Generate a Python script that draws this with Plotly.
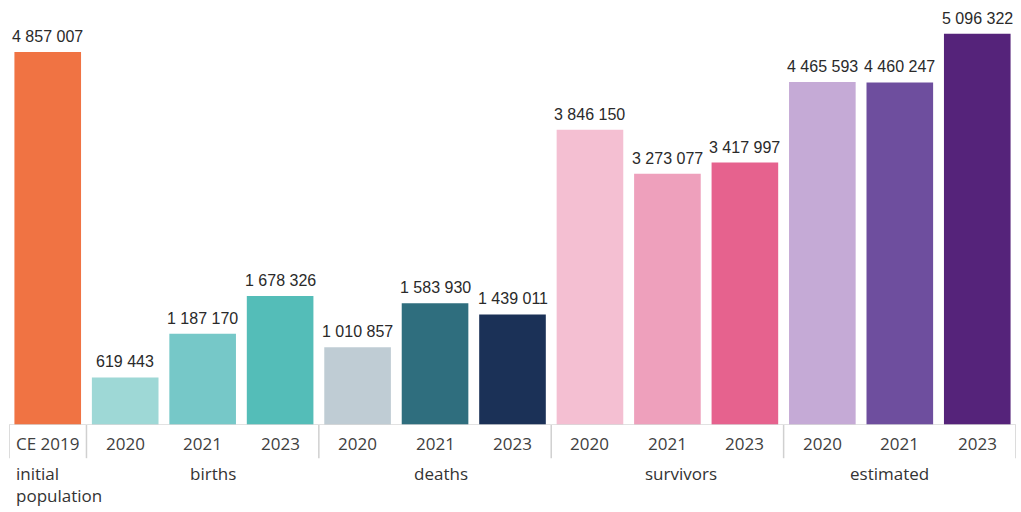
import plotly.graph_objects as go

tick_labels = ["CE 2019", "2020", "2021", "2023", "2020", "2021", "2023",
               "2020", "2021", "2023", "2020", "2021", "2023"]
values = [4857007, 619443, 1187170, 1678326, 1010857, 1583930, 1439011,
          3846150, 3273077, 3417997, 4465593, 4460247, 5096322]
groups = ["initial<br>population", "births", "deaths", "survivors", "estimated"]
group_sizes = [1, 3, 3, 3, 3]
colors = ["#F07343",
          "#9ED8D6", "#76C8C8", "#54BDB8",
          "#BFCCD4", "#2F6E7E", "#1B3157",
          "#F4BFD2", "#EEA0BC", "#E6628E",
          "#C5AAD6", "#6E4E9E", "#55237A"]

def fmt(v):
    return f"{v:,}".replace(",", " ")

xs = list(range(len(values)))

fig = go.Figure()
fig.add_trace(go.Bar(x=xs, y=values, marker=dict(color=colors, line=dict(width=0)),
                     width=0.86, hoverinfo="skip"))

for x, v in zip(xs, values):
    fig.add_annotation(x=x, y=v, text=fmt(v), showarrow=False, yanchor="bottom",
                       yshift=5, font=dict(family="Liberation Sans, Arial", size=16, color="#2a2a2a"))

# tick labels
for x, t in zip(xs, tick_labels):
    fig.add_annotation(x=x, y=0, yref="y", text=t, showarrow=False, yanchor="top",
                       yshift=-5, font=dict(family="Open Sans", size=17, color="#404040"))

# separators
bounds = [-0.5]
for s in group_sizes:
    bounds.append(bounds[-1] + s)
for b in bounds:
    fig.add_shape(type="line", xref="x", yref="paper", x0=b, x1=b, y0=0, y1=-0.08,
                  line=dict(color="#D0D0D0", width=1.5))
fig.add_shape(type="line", xref="x", yref="y", x0=-0.5, x1=12.5, y0=0, y1=0,
              line=dict(color="#D8D8D8", width=1.5))

# group labels
start = 0
offsets = {1: 0.13, 2: 0.08, 3: 0.17, 4: -0.13}
for i, (g, s) in enumerate(zip(groups, group_sizes)):
    if i == 0:
        fig.add_annotation(x=-0.435, y=0, yref="y", text=g, showarrow=False,
                           xanchor="left", yanchor="top", yshift=-35, align="left",
                           font=dict(family="Open Sans", size=17, color="#333333"))
    else:
        cx = start + (s - 1) / 2
        fig.add_annotation(x=cx + offsets[i], y=0, yref="y", text=g, showarrow=False,
                           yanchor="top", yshift=-35,
                           font=dict(family="Open Sans", size=17, color="#333333"))
    start += s

fig.update_layout(
    width=1021, height=512,
    margin=dict(l=9, r=5, t=10, b=87),
    plot_bgcolor="white", paper_bgcolor="white",
    showlegend=False,
    xaxis=dict(range=[-0.5, 12.5], showticklabels=False, showgrid=False,
               zeroline=False, showline=False, fixedrange=True),
    yaxis=dict(range=[0, 5404000], showticklabels=False, showgrid=False,
               zeroline=False, showline=False, fixedrange=True),
    bargap=0.14,
)

fig.write_html("out.html", config={"displayModeBar": False},
               post_script="document.body.style.margin='0';")
